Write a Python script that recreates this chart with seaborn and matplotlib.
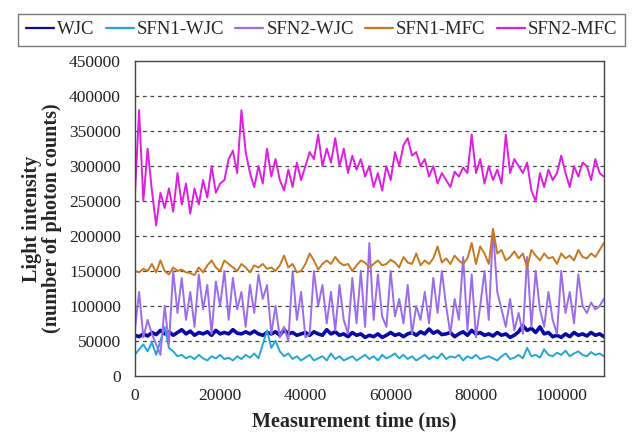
import numpy as np
import pandas as pd
import matplotlib
matplotlib.use("Agg")
import matplotlib.pyplot as plt
import seaborn as sns

# =============================
# Data (in thousands of counts, one sample per 1000 ms)
# =============================
time_ms = list(range(0, 111000, 1000))

wjc = [58, 56, 60, 57, 62, 59, 65, 60, 63, 58, 62, 66, 60, 64, 58, 62, 60, 63, 58, 65,
       60, 62, 60, 66, 61, 60, 63, 60, 64, 60, 58, 62, 60, 63, 58, 66, 60, 62, 58, 60,
       62, 58, 63, 60, 58, 66, 60, 63, 58, 60, 56, 62, 58, 60, 55, 58, 56, 60, 55, 58,
       62, 58, 60, 56, 60, 62, 58, 63, 60, 67, 61, 64, 59, 60, 62, 56, 60, 63, 58, 65,
       60, 62, 58, 60, 57, 62, 58, 60, 55, 58, 63, 72, 65, 68, 62, 70, 60, 62, 56, 58,
       55, 60, 56, 62, 58, 60, 57, 62, 58, 60, 56]

sfn1_wjc = [30, 38, 45, 35, 48, 30, 50, 70, 40, 35, 28, 30, 25, 28, 24, 30, 25, 22, 28, 25,
            30, 24, 26, 22, 28, 24, 30, 26, 32, 25, 45, 65, 40, 50, 35, 28, 32, 24, 28, 22,
            26, 30, 22, 25, 28, 22, 32, 24, 28, 22, 25, 28, 22, 26, 30, 24, 28, 22, 30, 25,
            28, 32, 25, 30, 24, 28, 22, 26, 30, 24, 28, 25, 32, 24, 28, 26, 30, 22, 28, 25,
            30, 24, 26, 28, 25, 22, 28, 32, 24, 26, 30, 25, 40, 28, 30, 26, 38, 30, 28, 33,
            30, 36, 28, 32, 35, 30, 28, 34, 30, 32, 28]

sfn2_wjc = [65, 120, 55, 80, 60, 45, 30, 100, 45, 150, 90, 140, 80, 120, 70, 145, 95, 130, 60, 135,
            100, 150, 80, 140, 95, 120, 70, 130, 90, 145, 110, 130, 60, 100, 55, 70, 50, 150, 80, 120,
            55, 60, 150, 100, 130, 75, 120, 65, 130, 80, 60, 140, 75, 150, 70, 190, 80, 145, 85, 70,
            150, 85, 110, 75, 130, 60, 100, 80, 120, 75, 140, 90, 150, 100, 60, 110, 80, 170, 65, 145,
            55, 100, 150, 80, 210, 120, 95, 70, 110, 65, 90, 60, 170, 70, 150, 95, 70, 120, 80, 60,
            150, 90, 120, 75, 145, 100, 90, 105, 95, 100, 110]

sfn1_mfc = [150, 148, 153, 150, 160, 148, 165, 150, 145, 155, 150, 152, 148, 147, 144, 155, 148, 158, 165, 155,
            150, 165, 160, 155, 150, 160, 155, 148, 158, 155, 160, 153, 155, 150, 158, 172, 155, 160, 148, 150,
            160, 175, 165, 152, 160, 165, 160, 170, 162, 158, 160, 150, 158, 165, 162, 155, 160, 165, 158, 160,
            166, 162, 155, 170, 162, 160, 175, 158, 165, 160, 168, 185, 162, 168, 160, 172, 165, 160, 168, 190,
            160, 185, 175, 160, 210, 175, 180, 165, 170, 178, 168, 175, 155, 180, 172, 165, 175, 168, 170, 160,
            175, 168, 172, 165, 180, 170, 168, 175, 170, 180, 190]

sfn2_mfc = [255, 380, 250, 325, 265, 215, 262, 240, 268, 235, 290, 245, 275, 232, 268, 245, 280, 255, 300, 262,
            275, 280, 310, 322, 290, 380, 320, 290, 270, 300, 275, 325, 285, 310, 280, 265, 295, 270, 305, 280,
            300, 320, 310, 345, 300, 325, 305, 340, 300, 325, 290, 315, 295, 310, 285, 300, 270, 290, 265, 300,
            280, 320, 300, 330, 340, 315, 320, 300, 310, 285, 300, 275, 290, 280, 270, 292, 285, 298, 290, 345,
            290, 310, 275, 300, 280, 295, 275, 345, 290, 310, 300, 290, 305, 265, 250, 290, 270, 295, 280, 290,
            315, 290, 270, 300, 285, 305, 300, 280, 310, 290, 285]

series_names = ["WJC", "SFN1-WJC", "SFN2-WJC", "SFN1-MFC", "SFN2-MFC"]
series_values = [wjc, sfn1_wjc, sfn2_wjc, sfn1_mfc, sfn2_mfc]
colors = ["#0a0aa8", "#22a6d8", "#9b6cec", "#c8781e", "#e01ee0"]
widths = [2.6, 1.4, 1.4, 1.4, 1.4]

# =============================
# Long table
# =============================
frames = []
for name, vals in zip(series_names, series_values):
    frames.append(pd.DataFrame({
        "time": time_ms,
        "value": np.array(vals) * 1000,
        "series": name,
    }))
df = pd.concat(frames, ignore_index=True)

# =============================
# Plot
# =============================
sns.set_style("white")
plt.rcParams["font.family"] = ["Liberation Serif", "DejaVu Serif"]

fig = plt.figure(figsize=(6.33, 4.34), dpi=100)
ax = fig.add_axes([0.213, 0.134, 0.741, 0.725])

for name, col, lw in zip(series_names, colors, widths):
    sns.lineplot(
        data=df[df["series"] == name],
        x="time",
        y="value",
        color=col,
        linewidth=lw,
        label=name,
        ax=ax,
    )

ax.set_xlim(0, 110000)
ax.set_ylim(0, 450000)
ax.set_xticks(range(0, 110000, 20000))
ax.set_yticks(range(0, 450001, 50000))
ax.tick_params(axis="x", direction="in", length=4, width=1, labelsize=12.5, pad=9, colors="#333333")
ax.tick_params(axis="y", length=0, labelsize=12.5, pad=10, colors="#333333")
for lab in ax.get_xticklabels() + ax.get_yticklabels():
    lab.set_color("#222222")

for yv in range(50000, 450000, 50000):
    ax.axhline(yv, color="#444444", linestyle=(0, (3, 3)), linewidth=0.9, zorder=0)

for sp in ax.spines.values():
    sp.set_color("#444444")
    sp.set_linewidth(1.0)

ax.set_xlabel("Measurement time (ms)", fontsize=14.5, fontweight="bold")
ax.xaxis.set_label_coords(0.468, -0.112)
ax.set_ylabel("Light intensity\n(number of photon counts)", fontsize=14.5,
              fontweight="bold", linespacing=1.0)
ax.yaxis.set_label_coords(-0.155, 0.5)

handles, labels = ax.get_legend_handles_labels()
ax.legend_.remove()
leg = fig.legend(
    handles, labels,
    loc="upper center",
    bbox_to_anchor=(0.508, 0.99),
    ncol=5,
    fontsize=13.5,
    frameon=True,
    fancybox=False,
    edgecolor="#555555",
    handlelength=1.5,
    handletextpad=0.15,
    columnspacing=0.6,
    borderpad=0.4,
)
for line in leg.get_lines():
    line.set_linewidth(1.6)
leg.get_frame().set_linewidth(1.0)

plt.savefig("out.png", dpi=100)
